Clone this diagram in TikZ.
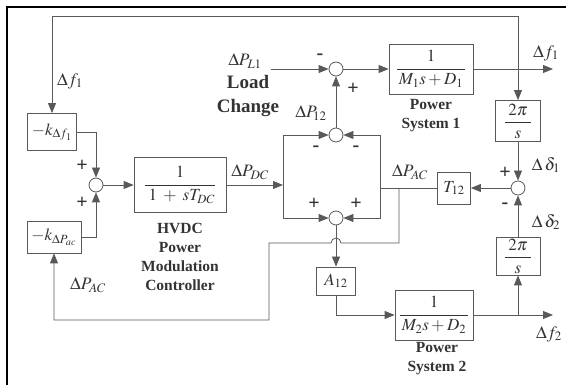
\documentclass[tikz,border=0pt]{standalone}
\usepackage{amsmath}
\usepackage{mathptmx}
\usepackage{fontspec}
\setmainfont{Liberation Serif}
\usetikzlibrary{arrows.meta}

\begin{document}
\begin{tikzpicture}[x=1pt,y=-1pt]
	\tikzstyle{block}=[draw=black!65, line width=0.8pt, fill=white, inner sep=1pt, text=black!80, font=\fontsize{17}{20}\selectfont]
	\tikzstyle{sum}=[draw=black!65, line width=0.8pt, circle, fill=white, minimum size=14pt, inner sep=0pt]
	\tikzstyle{sig}=[draw=black!65, line width=0.8pt, -{Triangle[length=10pt,width=8pt]}]
	\tikzstyle{wire}=[draw=black!65, line width=0.8pt]
	\tikzstyle{lbl}=[text=black!80, font=\fontsize{17.5}{20}\selectfont, inner sep=0pt]
	\tikzstyle{sgn}=[text=black!80, font=\bfseries\fontsize{20}{20}\selectfont, inner sep=0pt]
	\tikzstyle{capt}=[text=black!80, font=\bfseries\fontsize{15.5}{19}\selectfont, align=center, inner sep=0pt]

	\useasboundingbox (0,0) rectangle (566,385);
	\draw[line width=1.4pt] (7,385) -- (7,7) -- (566,7);

	% blocks
	\node[block, minimum width=49pt, minimum height=37pt] (kf) at (52,132) {$-k_{\Delta f_1}$};
	\node[block, minimum width=54pt, minimum height=32pt] (kp) at (54,237) {$-k_{\Delta P_{ac}}$};
	\node[block, minimum width=92pt, minimum height=55pt] (hvdc) at (180,185) {$\dfrac{1}{\;1\;+\;sT_{DC}}$};
	\node[block, minimum width=84pt, minimum height=50pt] (ps1) at (431,69) {$\dfrac{1}{\,M_1s+D_1\,}$};
	\node[block, minimum width=78pt, minimum height=50pt] (ps2) at (434,315) {$\dfrac{1}{\,M_2s+D_2\,}$};
	\node[block, minimum width=45pt, minimum height=41pt] (pi1) at (518,121) {$\dfrac{\;2\pi\;}{s}$};
	\node[block, minimum width=44pt, minimum height=38pt] (pi2) at (518,256) {$\dfrac{\;2\pi\;}{s}$};
	\node[block, minimum width=33pt, minimum height=32pt] (t12) at (454,188) {$T_{12}$};
	\node[block, minimum width=39pt, minimum height=28pt] (a12) at (336,281) {$A_{12}$};

	% summing points
	\node[sum] (sk) at (96,185) {};
	\node[sum] (sl) at (336,69) {};
	\node[sum] (s12) at (336,135) {};
	\node[sum] (sac) at (336,218) {};
	\node[sum] (sd) at (518,188) {};

	% free ends and corners
	\coordinate (tr) at (518,16);
	\coordinate (pl) at (271,69);
	\coordinate (f1out) at (553,69);
	\coordinate (f2out) at (553,315);
	\coordinate (br2) at (518,315);
	\coordinate (bl) at (283,185);
	\coordinate (br) at (380,188);
	\coordinate (tap) at (399,188);
	\coordinate (hop) at (399,243);
	\coordinate (low) at (269,320);

	% connectors
	\draw[sig] (tr) -| (kf.north);
	\draw[sig] (tr) -- (pi1.north);
	\draw[sig] (kf.east) -| (sk.north);
	\draw[sig] (kp.east) -| (sk.south);
	\draw[sig] (sk) -- (hvdc);
	\draw[sig] (hvdc.east) -- (bl);
	\draw[sig] (bl) |- (s12.west);
	\draw[sig] (bl) |- (sac.west);
	\draw[sig] (br) |- (s12.east);
	\draw[sig] (br) |- (sac.east);
	\draw[sig] (s12) -- (sl);
	\draw[sig] (pl) -- (sl);
	\draw[sig] (sl) -- (ps1);
	\draw[sig] (ps1) -- (f1out);
	\draw[sig] (pi1) -- (sd);
	\draw[sig] (pi2) -- (sd);
	\draw[sig] (sd) -- (t12);
	\draw[wire] (t12.west) -- (br);
	\draw[sig] (tap) -- (hop) -- (341,243) arc[start angle=0, end angle=180, radius=5pt] -- (269,243) -- (low) -| (kp.south);
	\draw[sig] (sac) -- (a12);
	\draw[sig] (a12.south) |- (ps2.west);
	\draw[sig] (ps2) -- (f2out);
	\draw[sig] (br2) -- (pi2.south);

	% signs
	\node[sgn] (p1) at (82,166) {+};
	\node[sgn] (p2) at (82,203) {+};
	\node[sgn] (m1) at (320,57) {-};
	\node[sgn] (p3) at (353,89) {+};
	\node[sgn] (m2) at (316,149) {-};
	\node[sgn] (m3) at (356,149) {-};
	\node[sgn] (p4) at (314,204) {+};
	\node[sgn] (p5) at (356,204) {+};
	\node[sgn] (p6) at (505,173) {+};
	\node[sgn] (m4) at (505,206) {-};

	% labels
	\node[lbl] (lf1) at (70,81) {$\Delta f_1$};
	\node[lbl] (lpac) at (88,285) {$\Delta P_{AC}$};
	\node[lbl] (lpdc) at (250,172) {$\Delta P_{DC}$};
	\node[lbl] (lpl) at (245,61) {$\Delta P_{L1}$};
	\node[lbl] (lp12) at (311,113) {$\Delta P_{\!12}$};
	\node[lbl] (lpac2) at (410,172) {$\Delta P_{AC}$};
	\node[lbl] (lf1o) at (546,53) {$\Delta f_1$};
	\node[lbl] (lf2o) at (549,334) {$\Delta f_2$};
	\node[lbl] (ld1) at (546,165) {$\Delta\,\delta_1$};
	\node[lbl] (ld2) at (546,222) {$\Delta\,\delta_2$};

	\node[capt, font=\bfseries\fontsize{19}{24}\selectfont] (load) at (248,96) {Load\\Change};
	\node[capt] (chvdc) at (180,257) {HVDC\\Power\\Modulation\\Controller};
	\node[capt] (cps1) at (431,116) {Power\\System 1};
	\node[capt] (cps2) at (437,359) {Power\\System 2};
\end{tikzpicture}
\end{document}
